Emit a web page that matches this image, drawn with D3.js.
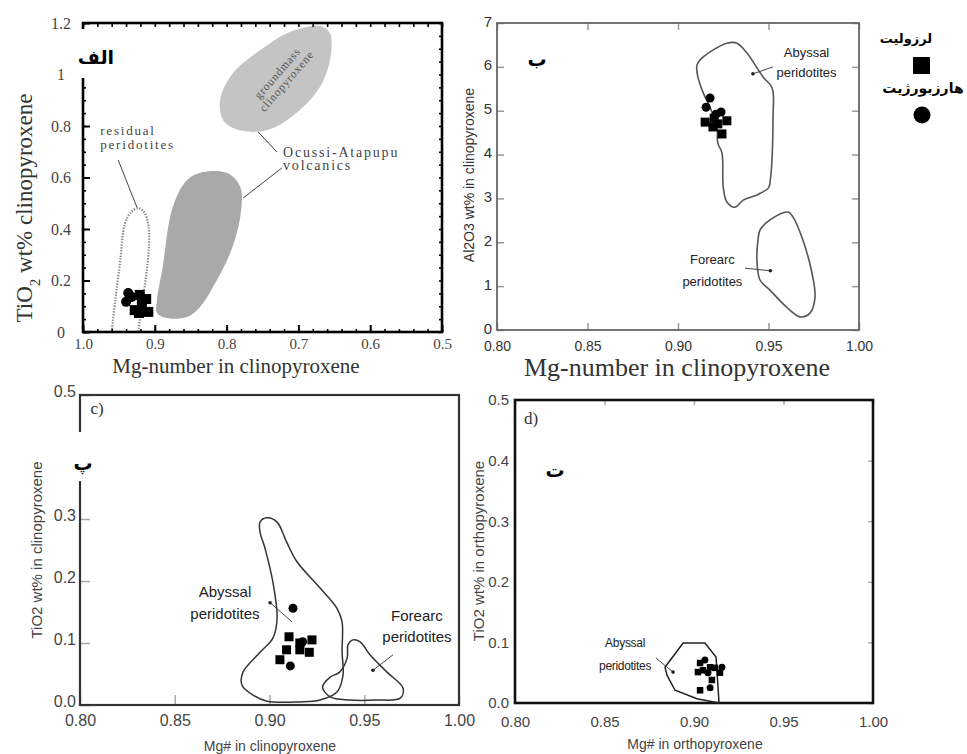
<!DOCTYPE html>
<html>
<head>
<meta charset="utf-8">
<script src="https://cdn.jsdelivr.net/npm/d3@7"></script>
<style>
  body { margin: 0; background: #fff; }
  svg { display: block; }
</style>
</head>
<body>
<div id="chart"></div>
<script>
// ---------------- data ----------------
// panel الف : TiO2 vs Mg-number (cpx)
var aXTicks = [1.0, 0.9, 0.8, 0.7, 0.6, 0.5];
var aYTicks = [0, 0.2, 0.4, 0.6, 0.8, 1, 1.2];
var aGroundmass = [[0.805,0.823],[0.809,0.901],[0.791,1.006],[0.753,1.095],[0.712,1.165],[0.670,1.188],
                   [0.656,1.161],[0.656,1.056],[0.670,0.951],[0.698,0.862],[0.735,0.792],[0.763,0.777],[0.791,0.792]];
var aVolcanics = [[0.897,0.124],[0.889,0.252],[0.875,0.485],[0.855,0.590],[0.833,0.621],[0.799,0.617],[0.781,0.563],
                  [0.781,0.447],[0.795,0.307],[0.819,0.175],[0.837,0.097],[0.855,0.058],[0.883,0.054],[0.897,0.074]];
var aResidual = [[0.960,0],[0.955,0.124],[0.948,0.280],[0.942,0.416],[0.933,0.466],[0.923,0.481],[0.915,0.466],
                 [0.909,0.416],[0.908,0.338],[0.912,0.221],[0.918,0.105],[0.923,0]];
var aLherzolite = [[0.921,0.144],[0.912,0.128],[0.918,0.105],[0.909,0.078],[0.928,0.085],[0.922,0.074]];
var aHarzburgite = [[0.937,0.151],[0.932,0.136],[0.940,0.117]];

// panel ب : Al2O3 vs Mg-number (cpx)
var bXTicks = [0.80, 0.85, 0.90, 0.95, 1.00];
var bYTicks = [0, 1, 2, 3, 4, 5, 6, 7];
var bAbyssal = [[0.9105,6.04],[0.9138,6.22],[0.927,6.54],[0.9326,6.54],[0.938,6.32],[0.947,5.77],[0.952,5.52],
                [0.9525,4.86],[0.951,3.42],[0.950,3.24],[0.9436,3.08],[0.936,2.96],[0.9315,2.80],[0.927,2.92],
                [0.925,3.26],[0.9243,4.04],[0.922,4.26],[0.9215,4.63],[0.9177,5.08],[0.914,5.40],[0.911,5.77]];
var bForearc = [[0.9453,2.28],[0.9508,2.51],[0.9608,2.69],[0.9635,2.58],[0.969,2.05],[0.974,1.30],[0.9757,0.75],
                [0.973,0.39],[0.9674,0.30],[0.960,0.52],[0.9508,0.91],[0.9453,1.14],[0.9436,1.60],[0.9442,2.05]];
var bLherzolite = [[0.915,4.74],[0.920,4.83],[0.927,4.77],[0.9193,4.63],[0.9243,4.47],[0.922,4.70]];
var bHarzburgite = [[0.9177,5.29],[0.9155,5.08],[0.9238,4.97],[0.921,4.92]];

// panel پ : TiO2 vs Mg# (cpx)
var cXTicks = [0.80, 0.85, 0.90, 0.95, 1.00];
var cYTicks = [0.0, 0.1, 0.2, 0.3, 0.4, 0.5];
var cAbyssal = [[0.895,0.295],[0.8987,0.302],[0.904,0.295],[0.909,0.263],[0.9145,0.231],[0.9266,0.189],[0.9356,0.156],
                [0.9383,0.134],[0.9383,0.085],[0.9388,0.048],[0.9356,0.021],[0.9266,0.008],[0.916,0.005],[0.8987,0.006],
                [0.8913,0.016],[0.8855,0.032],[0.886,0.053],[0.895,0.085],[0.9018,0.108],[0.904,0.140],[0.9018,0.198],
                [0.8976,0.253],[0.895,0.279]];
var cForearc = [[0.944,0.105],[0.9478,0.102],[0.953,0.081],[0.962,0.053],[0.9705,0.027],[0.969,0.011],[0.9567,0.008],
                [0.9425,0.008],[0.932,0.013],[0.928,0.029],[0.932,0.045],[0.937,0.053],[0.941,0.076],[0.9414,0.097]];
var cLherzolite = [[0.9103,0.110],[0.916,0.100],[0.9224,0.105],[0.909,0.089],[0.916,0.089],[0.921,0.085],[0.9055,0.073]];
var cHarzburgite = [[0.9124,0.156],[0.911,0.063],[0.9175,0.102]];

// panel ت : TiO2 vs Mg# (opx)
var dXTicks = [0.80, 0.85, 0.90, 0.95, 1.00];
var dYTicks = [0.0, 0.1, 0.2, 0.3, 0.4, 0.5];
var dAbyssal = [[0.8838,0.059],[0.8939,0.099],[0.9061,0.099],[0.9123,0.076],[0.914,0.0],[0.9017,0.007],
                [0.8894,0.021],[0.8849,0.046]];
var dLherzolite = [[0.9034,0.066],[0.909,0.059],[0.905,0.054],[0.9022,0.051],[0.9117,0.058],[0.9145,0.050],
                   [0.910,0.038],[0.9034,0.021]];
var dHarzburgite = [[0.9061,0.071],[0.9156,0.059],[0.909,0.025],[0.9078,0.050]];

// legend
var legendNames = ["لرزوليت", "هارزبورژيت"];

// ---------------- drawing ----------------
var serif = "'Liberation Serif','DejaVu Serif',serif";
var narrow = "'Liberation Sans Narrow','Liberation Sans',Arial,sans-serif";
var fa = "'DejaVu Sans',sans-serif";

var svg = d3.select("#chart")
  .append("svg")
    .attr("width", 967)
    .attr("height", 754);

svg.append("rect").attr("width", 967).attr("height", 754).attr("fill", "#fff");

function shape(g, pts, x, y, curve) {
  return g.append("path")
    .attr("d", d3.line().x(function(d){ return x(d[0]); }).y(function(d){ return y(d[1]); }).curve(curve)(pts));
}

function squares(g, pts, x, y, s) {
  g.selectAll(null).data(pts).enter().append("rect")
    .attr("x", function(d){ return x(d[0]) - s/2; })
    .attr("y", function(d){ return y(d[1]) - s/2; })
    .attr("width", s).attr("height", s)
    .attr("fill", "#000");
}

function circles(g, pts, x, y, r) {
  g.selectAll(null).data(pts).enter().append("circle")
    .attr("cx", function(d){ return x(d[0]); })
    .attr("cy", function(d){ return y(d[1]); })
    .attr("r", r)
    .attr("fill", "#000");
}

function styleAxis(sel, font, size, color, tickColor, tickW) {
  sel.select(".domain").remove();
  sel.selectAll("line").attr("stroke", tickColor).attr("stroke-width", tickW);
  sel.selectAll("text").filter(function(){ return this.textContent === ""; }).remove();
  sel.selectAll("text").style("font-family", font).style("font-size", size + "px").attr("fill", color);
}

function label(g, x, y, txt, font, size, anchor) {
  return g.append("text").attr("x", x).attr("y", y)
    .style("font-family", font).style("font-size", size + "px")
    .attr("text-anchor", anchor || "middle").attr("fill", "#222").text(txt);
}

function leader(g, pts, x, y, arrow) {
  g.append("line")
    .attr("x1", x(pts[0][0])).attr("y1", y(pts[0][1]))
    .attr("x2", x(pts[1][0])).attr("y2", y(pts[1][1]))
    .attr("stroke", "#444").attr("stroke-width", 1);
  if (arrow) g.append("circle").attr("cx", x(pts[1][0])).attr("cy", y(pts[1][1])).attr("r", 1.8).attr("fill", "#222");
}

// ===== panel الف =====
var xA = d3.scaleLinear().domain([1.0, 0.5]).range([83, 442]);
var yA = d3.scaleLinear().domain([0, 1.2]).range([332, 23]);
var gA = svg.append("g");

shape(gA, aGroundmass, xA, yA, d3.curveCatmullRomClosed).attr("fill", "#c4c4c4");
shape(gA, aVolcanics, xA, yA, d3.curveCatmullRomClosed).attr("fill", "#a9a9a9");
shape(gA, aResidual, xA, yA, d3.curveCatmullRom)
  .attr("fill", "none").attr("stroke", "#888").attr("stroke-width", 2.2).attr("stroke-dasharray", "1.4,1.4");

gA.append("g").attr("transform", "translate(0," + yA(0) + ")")
  .call(d3.axisBottom(xA).ticks(25).tickSize(-3).tickSizeOuter(0).tickFormat(""))
  .call(styleAxis, serif, 15, "#333", "#000", 1.6);
gA.append("g").attr("transform", "translate(0," + yA(0) + ")")
  .call(d3.axisBottom(xA).tickValues(aXTicks).tickSize(-7).tickSizeOuter(0).tickPadding(6).tickFormat(d3.format(".1f")))
  .call(styleAxis, serif, 15, "#444", "#000", 2);
gA.append("g").attr("transform", "translate(0," + yA(1.2) + ")")
  .call(d3.axisTop(xA).ticks(25).tickSize(-4).tickSizeOuter(0).tickFormat(""))
  .call(styleAxis, serif, 15, "#333", "#000", 1.6);
gA.append("g").attr("transform", "translate(" + xA(1.0) + ",0)")
  .call(d3.axisLeft(yA).ticks(24).tickSize(-3).tickSizeOuter(0).tickFormat(""))
  .call(styleAxis, serif, 15, "#333", "#000", 1.6);
var aYAxis = gA.append("g").attr("transform", "translate(" + xA(1.0) + ",0)")
  .call(d3.axisLeft(yA).tickValues(aYTicks).tickSize(-7).tickSizeOuter(0).tickPadding(10).tickFormat(d3.format("~g")))
  .call(styleAxis, serif, 16, "#444", "#000", 2);
aYAxis.selectAll("text").attr("x", -22).attr("text-anchor", "middle");
gA.append("g").attr("transform", "translate(" + xA(0.5) + ",0)")
  .call(d3.axisRight(yA).ticks(24).tickSize(-3).tickSizeOuter(0).tickFormat(""))
  .call(styleAxis, serif, 15, "#333", "#000", 1.6);

gA.append("rect").attr("x", 83).attr("y", 23).attr("width", 359).attr("height", 309)
  .attr("fill", "none").attr("stroke", "#000").attr("stroke-width", 2.6);

squares(gA, aLherzolite, xA, yA, 10);
circles(gA, aHarzburgite, xA, yA, 5);

// annotations
var tResid = gA.append("text").style("font-family", serif).style("font-size", "13px")
  .style("letter-spacing", "1.8px").attr("fill", "#444");
tResid.append("tspan").attr("x", xA(0.976)).attr("y", yA(0.765)).text("residual");
tResid.append("tspan").attr("x", xA(0.976)).attr("y", yA(0.71)).text("peridotites");
leader(gA, [[0.951,0.668],[0.925,0.485]], xA, yA, false);

var tOc = gA.append("text").style("font-family", serif).style("font-size", "14px")
  .style("letter-spacing", "1.8px").attr("fill", "#444");
tOc.append("tspan").attr("x", xA(0.7214)).attr("y", yA(0.68)).text("Ocussi-Atapupu");
tOc.append("tspan").attr("x", xA(0.7214)).attr("y", yA(0.628)).text("volcanics");
leader(gA, [[0.730,0.699],[0.756,0.777]], xA, yA, false);
leader(gA, [[0.723,0.637],[0.777,0.520]], xA, yA, false);

var tGm = gA.append("text")
  .attr("transform", "translate(" + xA(0.723) + "," + yA(0.99) + ") rotate(-49)")
  .style("font-family", serif).style("font-size", "11.5px").style("letter-spacing", "0.8px")
  .attr("text-anchor", "middle").attr("fill", "#555");
tGm.append("tspan").attr("x", 0).attr("y", -2).text("groundmass");
tGm.append("tspan").attr("x", 0).attr("y", 10).text("clinopyroxene");

// axis titles
label(gA, 236, 373, "Mg-number in clinopyroxene", serif, 21).attr("fill", "#333");
var tAy = gA.append("text").attr("transform", "translate(32,208) rotate(-90)")
  .style("font-family", serif).style("font-size", "23px").attr("text-anchor", "middle").attr("fill", "#333");
tAy.append("tspan").text("TiO");
tAy.append("tspan").attr("baseline-shift", "sub").style("font-size", "15px").text("2");
tAy.append("tspan").text(" wt% clinopyroxene");

// persian panel tag
gA.append("rect").attr("x", 67).attr("y", 29).attr("width", 50).attr("height", 49).attr("fill", "#fff");
label(gA, 96, 64, "الف", fa, 19).style("font-weight", "bold").attr("fill", "#000");

// ===== panel ب =====
var xB = d3.scaleLinear().domain([0.8, 1.0]).range([497, 859]);
var yB = d3.scaleLinear().domain([0, 7]).range([330, 23]);
var gB = svg.append("g");

gB.append("g").attr("transform", "translate(0," + yB(0) + ")")
  .call(d3.axisBottom(xB).tickValues(bXTicks).tickSize(-7).tickSizeOuter(0).tickPadding(11).tickFormat(d3.format(".2f")))
  .call(styleAxis, narrow, 14, "#333", "#999", 1.5);
gB.append("g").attr("transform", "translate(0," + yB(7) + ")")
  .call(d3.axisTop(xB).tickValues(bXTicks).tickSize(-7).tickSizeOuter(0).tickFormat(""))
  .call(styleAxis, narrow, 14, "#333", "#999", 1.5);
var bYAxis = gB.append("g").attr("transform", "translate(" + xB(0.8) + ",0)")
  .call(d3.axisLeft(yB).tickValues(bYTicks).tickSize(-7).tickSizeOuter(0).tickPadding(5).tickFormat(d3.format("d")))
  .call(styleAxis, narrow, 15, "#333", "#999", 1.5);
bYAxis.selectAll("text").attr("dy", "0.2em");
gB.append("g").attr("transform", "translate(" + xB(1.0) + ",0)")
  .call(d3.axisRight(yB).tickValues(bYTicks).tickSize(-7).tickSizeOuter(0).tickFormat(""))
  .call(styleAxis, narrow, 14, "#333", "#999", 1.5);
gB.append("rect").attr("x", 497).attr("y", 23).attr("width", 362).attr("height", 307)
  .attr("fill", "none").attr("stroke", "#666").attr("stroke-width", 1.8);

shape(gB, bAbyssal, xB, yB, d3.curveCatmullRomClosed).attr("fill", "none").attr("stroke", "#555").attr("stroke-width", 1.6);
shape(gB, bForearc, xB, yB, d3.curveCatmullRomClosed).attr("fill", "none").attr("stroke", "#555").attr("stroke-width", 1.6);

squares(gB, bLherzolite, xB, yB, 9);
circles(gB, bHarzburgite, xB, yB, 4.5);

label(gB, xB(0.971), yB(6.22), "Abyssal", narrow, 13);
label(gB, xB(0.971), yB(5.77), "peridotites", narrow, 13);
leader(gB, [[0.9525,6.0],[0.9414,5.84]], xB, yB, true);
label(gB, xB(0.919), yB(1.50), "Forearc", narrow, 13);
label(gB, xB(0.919), yB(1.00), "peridotites", narrow, 13);
leader(gB, [[0.937,1.41],[0.951,1.35]], xB, yB, true);

label(gB, 677, 376, "Mg-number in clinopyroxene", serif, 26).attr("fill", "#333");
gB.append("text").attr("transform", "translate(474,175) rotate(-90)")
  .style("font-family", narrow).style("font-size", "14px").attr("text-anchor", "middle").attr("fill", "#333")
  .text("Al2O3 wt% in clinopyroxene");

label(gB, 537, 66, "ب", fa, 19).style("font-weight", "bold").attr("fill", "#000");

// legend
var leg = svg.append("g");
label(leg, 906, 43, legendNames[0], fa, 13).style("font-weight", "bold").attr("fill", "#000");
leg.append("rect").attr("x", 913).attr("y", 57).attr("width", 17).attr("height", 17).attr("fill", "#000");
label(leg, 923, 93, legendNames[1], fa, 14).style("font-weight", "bold").attr("fill", "#000");
leg.append("circle").attr("cx", 922).attr("cy", 115).attr("r", 8.5).attr("fill", "#000");

// ===== panel پ =====
var xC = d3.scaleLinear().domain([0.8, 1.0]).range([80, 459]);
var yC = d3.scaleLinear().domain([0, 0.5]).range([705, 395]);
var gC = svg.append("g");

gC.append("g").attr("transform", "translate(0," + yC(0) + ")")
  .call(d3.axisBottom(xC).tickValues(cXTicks).tickSize(-10).tickSizeOuter(0).tickPadding(10).tickFormat(d3.format(".2f")))
  .call(styleAxis, narrow, 16, "#444", "#aaa", 1.5);
var cYAxis = gC.append("g").attr("transform", "translate(" + xC(0.8) + ",0)")
  .call(d3.axisLeft(yC).tickValues(cYTicks).tickSize(-10).tickSizeOuter(0).tickPadding(4).tickFormat(d3.format(".1f")))
  .call(styleAxis, narrow, 16, "#444", "#aaa", 1.5);
cYAxis.selectAll("text").attr("dy", "0.1em");
gC.append("rect").attr("x", 80).attr("y", 395).attr("width", 379).attr("height", 310)
  .attr("fill", "none").attr("stroke", "#333").attr("stroke-width", 2.2);

shape(gC, cAbyssal, xC, yC, d3.curveCatmullRomClosed).attr("fill", "none").attr("stroke", "#333").attr("stroke-width", 1.5);
shape(gC, cForearc, xC, yC, d3.curveCatmullRomClosed).attr("fill", "none").attr("stroke", "#333").attr("stroke-width", 1.5);

squares(gC, cLherzolite, xC, yC, 9);
circles(gC, cHarzburgite, xC, yC, 4.5);

label(gC, xC(0.8765), yC(0.174), "Abyssal", narrow, 15);
label(gC, xC(0.8765), yC(0.139), "peridotites", narrow, 15);
leader(gC, [[0.9119,0.134],[0.9003,0.165]], xC, yC, true);
label(gC, xC(0.9778), yC(0.135), "Forearc", narrow, 15);
label(gC, xC(0.9778), yC(0.102), "peridotites", narrow, 15);
leader(gC, [[0.9652,0.081],[0.9546,0.056]], xC, yC, true);

label(gC, 97, 414, "c)", serif, 17).attr("fill", "#333");
label(gC, 270, 751, "Mg# in clinopyroxene", narrow, 14).attr("fill", "#444");
gC.append("text").attr("transform", "translate(42,550) rotate(-90)")
  .style("font-family", narrow).style("font-size", "15px").attr("text-anchor", "middle").attr("fill", "#444")
  .text("TiO2 wt% in clinopyroxene");

gC.append("rect").attr("x", 50).attr("y", 432).attr("width", 45).attr("height", 49).attr("fill", "#fff");
label(gC, 83, 470, "پ", fa, 19).style("font-weight", "bold").attr("fill", "#000");

// ===== panel ت =====
var xD = d3.scaleLinear().domain([0.8, 1.0]).range([515, 873]);
var yD = d3.scaleLinear().domain([0, 0.5]).range([703, 400]);
var gD = svg.append("g");

gD.append("g").attr("transform", "translate(0," + yD(0) + ")")
  .call(d3.axisBottom(xD).tickValues(dXTicks).tickSize(0).tickPadding(13).tickFormat(d3.format(".2f")))
  .call(styleAxis, narrow, 15, "#444", "#aaa", 1.5);
gD.append("g").attr("transform", "translate(0," + yD(0.5) + ")")
  .call(d3.axisTop(xD).tickValues(dXTicks).tickSize(-5).tickSizeOuter(0).tickFormat(""))
  .call(styleAxis, narrow, 15, "#444", "#aaa", 1.5);
gD.append("g").attr("transform", "translate(" + xD(0.8) + ",0)")
  .call(d3.axisLeft(yD).tickValues(dYTicks).tickSize(0).tickPadding(6).tickFormat(d3.format(".1f")))
  .call(styleAxis, narrow, 15, "#444", "#aaa", 1.5);
gD.append("g").attr("transform", "translate(" + xD(1.0) + ",0)")
  .call(d3.axisRight(yD).tickValues(dYTicks).tickSize(-5).tickSizeOuter(0).tickFormat(""))
  .call(styleAxis, narrow, 15, "#444", "#aaa", 1.5);
gD.append("rect").attr("x", 515).attr("y", 400).attr("width", 358).attr("height", 303)
  .attr("fill", "none").attr("stroke", "#111").attr("stroke-width", 2.6);

shape(gD, dAbyssal, xD, yD, d3.curveLinearClosed).attr("fill", "none").attr("stroke", "#222").attr("stroke-width", 1.5);
squares(gD, dLherzolite, xD, yD, 6.5);
circles(gD, dHarzburgite, xD, yD, 3.5);

label(gD, xD(0.8615), yD(0.092), "Abyssal", narrow, 12).style("letter-spacing", "-0.3px");
label(gD, xD(0.8615), yD(0.054), "peridotites", narrow, 12).style("letter-spacing", "-0.3px");
leader(gD, [[0.8788,0.074],[0.8883,0.051]], xD, yD, true);

label(gD, 531, 424, "d)", serif, 17).attr("fill", "#333");
label(gD, 695, 749, "Mg# in orthopyroxene", narrow, 14).attr("fill", "#444");
gD.append("text").attr("transform", "translate(484,551) rotate(-90)")
  .style("font-family", narrow).style("font-size", "15px").attr("text-anchor", "middle").attr("fill", "#444")
  .text("TiO2 wt% in orthopyroxene");
label(gD, 555, 477, "ت", fa, 19).style("font-weight", "bold").attr("fill", "#000");
</script>
</body>
</html>
